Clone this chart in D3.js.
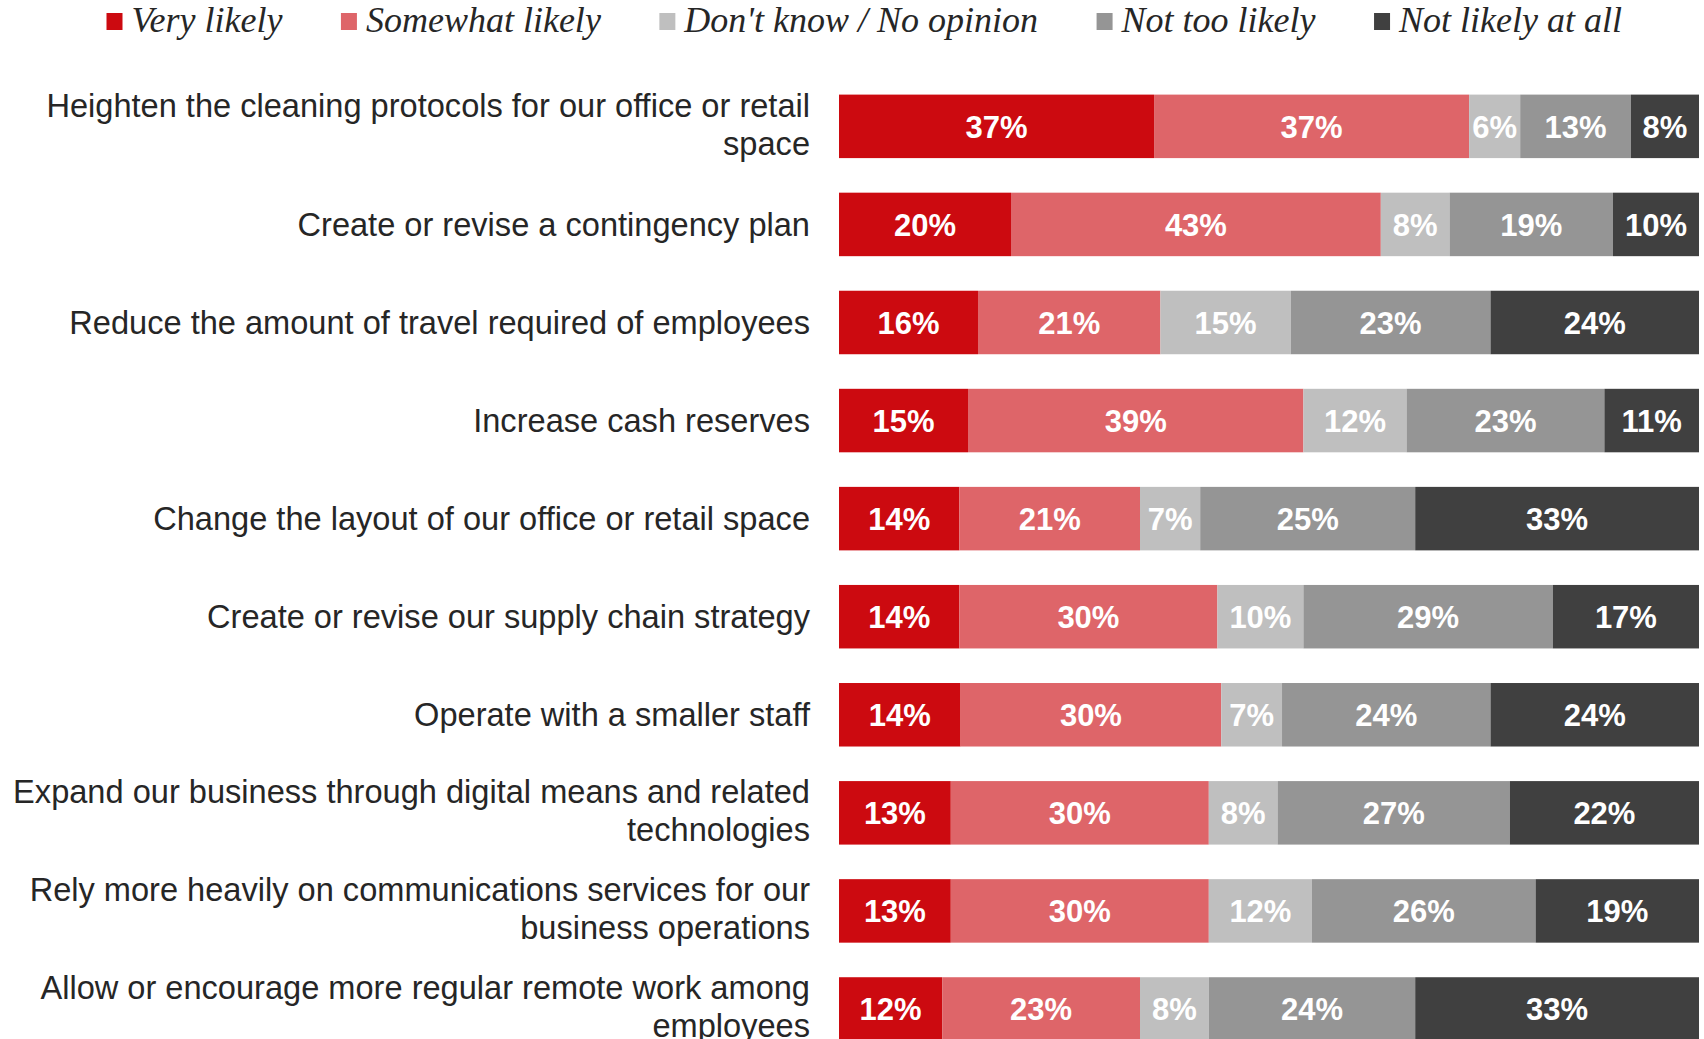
<!DOCTYPE html>
<html>
<head>
<meta charset="utf-8">
<script src="https://cdn.jsdelivr.net/npm/d3@7"></script>
<style>
  html, body { margin: 0; padding: 0; background: #fff; }
  svg { display: block; }
</style>
</head>
<body>
<svg id="chart" width="1704" height="1039"></svg>
<script>
// Survey actions (each row may wrap onto two lines)
const actions = [
  ["Heighten the cleaning protocols for our office or retail", "space"],
  ["Create or revise a contingency plan"],
  ["Reduce the amount of travel required of employees"],
  ["Increase cash reserves"],
  ["Change the layout of our office or retail space"],
  ["Create or revise our supply chain strategy"],
  ["Operate with a smaller staff"],
  ["Expand our business through digital means and related", "technologies"],
  ["Rely more heavily on communications services for our", "business operations"],
  ["Allow or encourage more regular remote work among", "employees"]
];

const responses = ["Very likely", "Somewhat likely", "Don't know / No opinion", "Not too likely", "Not likely at all"];

// Percent of respondents per answer, one array per response, in action order
const veryLikely      = [37, 20, 16, 15, 14, 14, 14, 13, 13, 12];
const somewhatLikely  = [37, 43, 21, 39, 21, 30, 30, 30, 30, 23];
const dontKnow        = [ 6,  8, 15, 12,  7, 10,  7,  8, 12,  8];
const notTooLikely    = [13, 19, 23, 23, 25, 29, 24, 27, 26, 24];
const notLikelyAtAll  = [ 8, 10, 24, 11, 33, 17, 24, 22, 19, 33];

const seriesValues = [veryLikely, somewhatLikely, dontKnow, notTooLikely, notLikelyAtAll];
const colors = ["#cc0a10", "#de6569", "#bfbfbf", "#959595", "#404040"];

const svg = d3.select("#chart");

// Layout
const barLeft = 839, barRight = 1699, labelRight = 810;
const bandTop = 94.6, step = 98.07, barH = 63.5;

const rows = actions.map((a, i) => {
  const vals = seriesValues.map(s => s[i]);
  return { idx: i, lines: a, vals, total: d3.sum(vals) };
});

const y = d3.scaleBand()
  .domain(rows.map(r => r.idx))
  .range([bandTop, bandTop + step * rows.length - (step - barH)])
  .paddingInner((step - barH) / step)
  .paddingOuter(0);

const color = d3.scaleOrdinal().domain(responses).range(colors);

// Stacked bars, each row spans the full response total
const rowG = svg.selectAll("g.row").data(rows).join("g")
  .attr("class", "row")
  .attr("transform", d => `translate(0,${y(d.idx)})`);

rowG.each(function(r) {
  const x = d3.scaleLinear().domain([0, r.total]).range([barLeft, barRight]);
  const cum = d3.cumsum(r.vals);
  const segs = r.vals.map((v, k) => ({ v, k, x0: cum[k] - v, x1: cum[k] }));
  const g = d3.select(this);
  g.selectAll("rect").data(segs).join("rect")
    .attr("x", d => x(d.x0))
    .attr("y", 0)
    .attr("width", d => x(d.x1) - x(d.x0))
    .attr("height", y.bandwidth())
    .attr("fill", d => color(responses[d.k]));
  g.selectAll("text.val").data(segs).join("text")
    .attr("class", "val")
    .attr("x", d => (x(d.x0) + x(d.x1)) / 2)
    .attr("y", y.bandwidth() / 2)
    .attr("dy", "0.36em")
    .attr("text-anchor", "middle")
    .attr("font-family", "'Liberation Sans', Arial, sans-serif")
    .attr("font-weight", "bold")
    .attr("font-size", 31)
    .attr("fill", "#fff")
    .text(d => d.v + "%");
});

// Category labels, right aligned against the bars
const lineH = 38;
rowG.append("text")
  .attr("text-anchor", "end")
  .attr("font-family", "'Liberation Sans', Arial, sans-serif")
  .attr("font-size", 32.6)
  .attr("fill", "#262626")
  .each(function(r) {
    const t = d3.select(this);
    const n = r.lines.length;
    const shift = n > 1 ? -2 : 0;
    r.lines.forEach((ln, j) => {
      t.append("tspan")
        .attr("x", labelRight)
        .attr("y", y.bandwidth() / 2 + (j - (n - 1) / 2) * lineH + shift)
        .attr("dy", "0.35em")
        .text(ln);
    });
  });

// Legend
const legend = svg.append("g").attr("class", "legend");
let lx = 106.5;
responses.forEach((name, k) => {
  legend.append("rect")
    .attr("x", lx).attr("y", 13)
    .attr("width", 16).attr("height", 17)
    .attr("fill", colors[k]);
  const t = legend.append("text")
    .attr("x", lx + 25).attr("y", 32)
    .attr("font-family", "'Liberation Serif', 'Times New Roman', serif")
    .attr("font-style", "italic")
    .attr("font-size", 36)
    .attr("fill", "#262626")
    .text(name);
  lx += 25 + t.node().getComputedTextLength() + 58.5;
});
</script>
</body>
</html>
